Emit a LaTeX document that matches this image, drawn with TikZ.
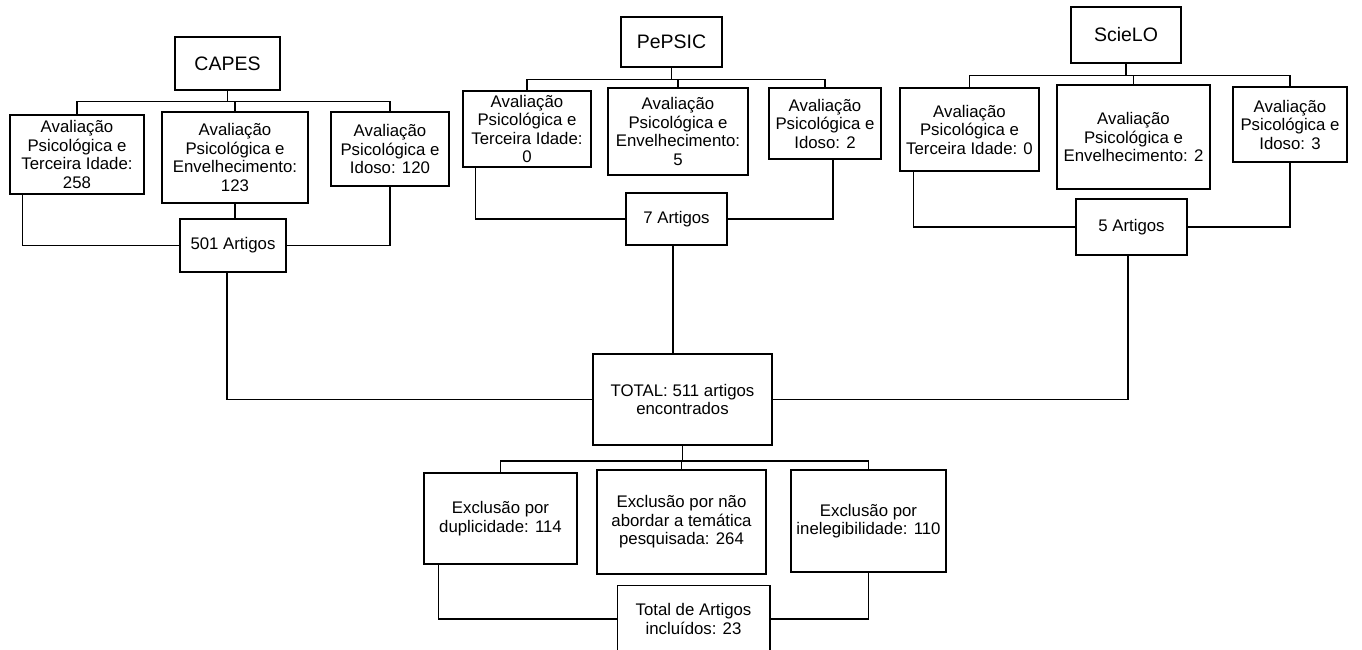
\documentclass[tikz,border=0pt]{standalone}
\usepackage{fontspec}
\setmainfont{Liberation Sans}
\usetikzlibrary{calc}
\tikzset{
  boxn/.style={draw=black, line width=1.5pt, fill=white, align=center, inner sep=0pt,
    font=\fontsize{16.8}{18.5}\selectfont},
  titlen/.style={boxn, font=\fontsize{19.5}{22}\selectfont},
  conn/.style={draw=black, line width=1.5pt},
}
\begin{document}
\begin{tikzpicture}[x=1pt, y=-1pt]
\useasboundingbox (0,0) rectangle (1362,650);
\fill[white] (0,0) rectangle (1362,650);

% ---- CAPES ----
\node[titlen, minimum width=105, minimum height=53] (capes) at (227.5,63.5) {CAPES};
\node[boxn, minimum width=134, minimum height=79] (c1) at (77,154.5) {Avaliação\\Psicológica e\\Terceira Idade:\\258};
\node[boxn, minimum width=146, minimum height=91] (c2) at (235,157.5) {Avaliação\\Psicológica e\\Envelhecimento:\\123};
\node[boxn, minimum width=118, minimum height=74] (c3) at (390,149) {Avaliação\\Psicológica e\\Idoso: 120};
\node[boxn, minimum width=106, minimum height=53] (art1) at (233,245.5) {501 Artigos};

% ---- PePSIC ----
\node[titlen, minimum width=101, minimum height=50] (pepsic) at (671.5,42) {PePSIC};
\node[boxn, minimum width=128, minimum height=76] (p1) at (527,129) {Avaliação\\Psicológica e\\Terceira Idade:\\0};
\node[boxn, minimum width=140, minimum height=87] (p2) at (678,131.5) {Avaliação\\Psicológica e\\Envelhecimento:\\5};
\node[boxn, minimum width=112, minimum height=71] (p3) at (825,123.5) {Avaliação\\Psicológica e\\Idoso: 2};
\node[boxn, minimum width=101, minimum height=52] (art2) at (676.5,219) {7 Artigos};

% ---- SciELO ----
\node[titlen, minimum width=110, minimum height=56] (scielo) at (1126,35) {ScieLO};
\node[boxn, minimum width=139, minimum height=83] (s1) at (969.5,129.5) {Avaliação\\Psicológica e\\Terceira Idade: 0};
\node[boxn, minimum width=153, minimum height=104] (s2) at (1133.5,137) {Avaliação\\Psicológica e\\Envelhecimento: 2};
\node[boxn, minimum width=114, minimum height=75] (s3) at (1290,124.5) {Avaliação\\Psicológica e\\Idoso: 3};
\node[boxn, minimum width=111, minimum height=56] (art3) at (1131.5,227) {5 Artigos};

% ---- Total ----
\node[boxn, minimum width=179, minimum height=91] (total) at (682.5,399.5) {TOTAL: 511 artigos\\encontrados};
\node[boxn, minimum width=153, minimum height=91] (e1) at (500.5,518.5) {Exclusão por\\duplicidade: 114};
\node[boxn, minimum width=169, minimum height=104] (e2) at (681.5,522) {Exclusão por não\\abordar a temática\\pesquisada: 264};
\node[boxn, minimum width=155, minimum height=102] (e3) at (868.5,521) {Exclusão por\\inelegibilidade: 110};
\node[boxn, draw=none, minimum width=151, minimum height=66] (tot) at (693.5,619) {Total de Artigos\\incluídos: 23};
\draw[conn] (tot.south west) -- (tot.north west) -- (tot.north east) -- (tot.south east);

% ---- connectors CAPES ----
\coordinate (cj) at ($(capes.south)+(0,11)$);
\draw[conn] (capes.south) -- (cj) -| (c2.north);
\draw[conn] (c1.north) |- (cj) -| (c3.north);
\draw[conn] ($(c1.south west)+(13,0)$) |- (art1.west);
\draw[conn] (c2.south) -- (c2.south |- art1.north);
\draw[conn] (c3.south) |- (art1.east);
\draw[conn] ($(art1.south)+(-6,0)$) |- (total.west);

% ---- connectors PePSIC ----
\coordinate (pj) at ($(pepsic.south)+(0,12)$);
\draw[conn] (pepsic.south) -- (pj) -| (p2.north);
\draw[conn] (p1.north) |- (pj) -| (p3.north);
\draw[conn] ($(p1.south west)+(13,0)$) |- (art2.west);
\draw[conn] ($(p3.south)+(8,0)$) |- (art2.east);
\draw[conn] ($(art2.south)+(-3.5,0)$) coordinate (a2s) -- (a2s |- total.north);

% ---- connectors SciELO ----
\coordinate (sj) at ($(scielo.south)+(0,12)$);
\draw[conn] (scielo.south) -- (sj) -| (s2.north);
\draw[conn] (s1.north) |- (sj) -| (s3.north);
\draw[conn] ($(s1.south west)+(14,0)$) |- (art3.west);
\draw[conn] (s3.south) |- (art3.east);
\draw[conn] ($(art3.south)+(-3.5,0)$) |- (total.east);

% ---- connectors Total ----
\coordinate (tj) at ($(total.south)+(0,15)$);
\draw[conn] (total.south) -- (tj) -| (e2.north);
\draw[conn] (e1.north) |- (tj) -| (e3.north);
\draw[conn] ($(e1.south west)+(15,0)$) |- (tot.west);
\draw[conn] (e3.south) |- (tot.east);
\end{tikzpicture}
\end{document}
